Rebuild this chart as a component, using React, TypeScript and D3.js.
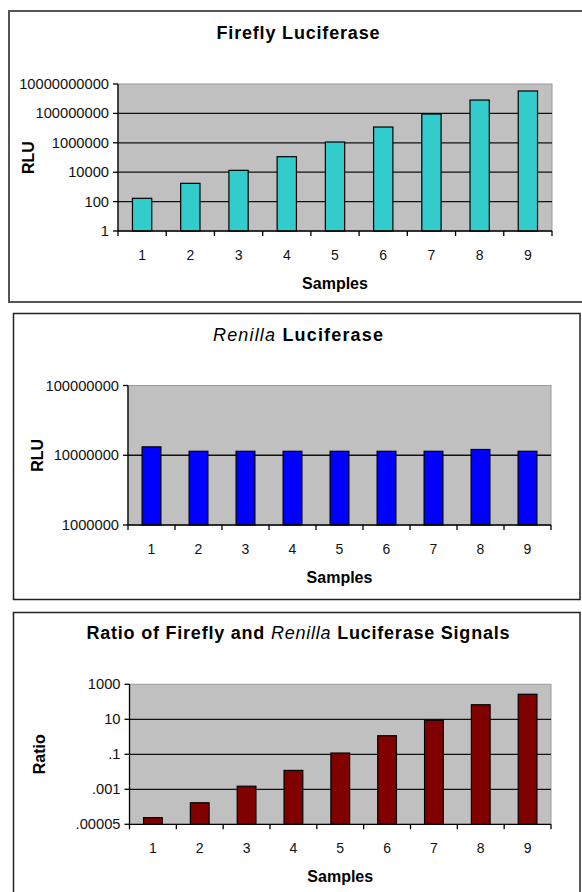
import React from 'react';
import * as d3 from 'd3';

// ---- data ----
const samples = ['1', '2', '3', '4', '5', '6', '7', '8', '9'];
const fireflyRLU = [167, 1750, 13400, 113000, 1.13e6, 1.18e7, 9.1e7, 8.1e8, 3.35e9];
const renillaRLU = [1.32e7, 1.14e7, 1.14e7, 1.14e7, 1.14e7, 1.14e7, 1.14e7, 1.21e7, 1.14e7];
const ratioValues = [2.4e-5, 1.7e-4, 1.5e-3, 0.012, 0.118, 1.15, 8.8, 68, 270];
const fireflyTicks = [1, 1e2, 1e4, 1e6, 1e8, 1e10];
const fireflyTickLabels = ['1', '100', '10000', '1000000', '100000000', '10000000000'];
const renillaTicks = [1e6, 1e7, 1e8];
const renillaTickLabels = ['1000000', '10000000', '100000000'];
const ratioTicks = [1e-5, 1e-3, 1e-1, 10, 1000];
const ratioTickLabels = ['.00005', '.001', '.1', '10', '1000'];

const FONT = '"Liberation Sans", Arial, Helvetica, sans-serif';

type Part = { t: string; italic?: boolean };

interface ChartProps {
  box: { x: number; y: number; w: number; h: number; stroke: string; sw: number };
  plot: { left: number; right: number; top: number; bottom: number };
  title: Part[];
  titleY: number;
  titleX: number;
  titleLen: number;
  yTitle: string;
  yTitleX: number;
  values: number[];
  ticks: number[];
  tickLabels: string[];
  color: string;
}

function Chart(p: ChartProps) {
  const { plot } = p;
  const x = d3.scaleBand<string>().domain(samples).range([plot.left, plot.right]).paddingInner(0).paddingOuter(0);
  const y = d3
    .scaleLog()
    .domain([p.ticks[0], p.ticks[p.ticks.length - 1]])
    .range([plot.bottom, plot.top]);
  const bw = x.bandwidth();
  const barW = bw * 0.4;
  const midY = (plot.top + plot.bottom) / 2;
  const midX = (plot.left + plot.right) / 2;
  const boundaries = samples.map((s) => x(s) as number).concat([plot.right]);
  return (
    <g>
      <rect x={p.box.x} y={p.box.y} width={p.box.w} height={p.box.h} fill="#fff" stroke={p.box.stroke} strokeWidth={p.box.sw} />
      <text
        x={p.titleX}
        y={p.titleY}
        textAnchor="middle"
        dominantBaseline="central"
        fontFamily={FONT}
        fontSize={18}
        fontWeight="bold"
        textLength={p.titleLen}
        lengthAdjust="spacing"
        fill="#000"
      >
        {p.title.map((part, i) => (
          <tspan key={i} fontStyle={part.italic ? 'italic' : 'normal'} fontWeight={part.italic ? 'normal' : 'bold'}>
            {part.t}
          </tspan>
        ))}
      </text>
      {/* plot area */}
      <rect x={plot.left} y={plot.top} width={plot.right - plot.left} height={plot.bottom - plot.top} fill="#C0C0C0" stroke="#9a9a9a" strokeWidth={1} />
      {/* gridlines */}
      {p.ticks.slice(1, -1).map((t, i) => (
        <line key={i} x1={plot.left} x2={plot.right} y1={y(t)} y2={y(t)} stroke="#111" strokeWidth={1.3} />
      ))}
      {/* bars */}
      {p.values.map((v, i) => {
        const bx = (x(samples[i]) as number) + (bw - barW) / 2;
        return (
          <rect key={i} x={bx} y={y(v)} width={barW} height={plot.bottom - y(v)} fill={p.color} stroke="#000" strokeWidth={1.2} />
        );
      })}
      {/* y axis */}
      <line x1={plot.left} x2={plot.left} y1={plot.top} y2={plot.bottom} stroke="#000" strokeWidth={1.3} />
      {p.ticks.map((t, i) => (
        <g key={i}>
          <line x1={plot.left - 5} x2={plot.left} y1={y(t)} y2={y(t)} stroke="#000" strokeWidth={1.3} />
          <text x={plot.left - 9} y={y(t)} textAnchor="end" dominantBaseline="central" fontFamily={FONT} fontSize={14.7} fill="#111">
            {p.tickLabels[i]}
          </text>
        </g>
      ))}
      {/* x axis */}
      <line x1={plot.left} x2={plot.right} y1={plot.bottom} y2={plot.bottom} stroke="#000" strokeWidth={1.3} />
      {boundaries.map((b, i) => (
        <line key={i} x1={b} x2={b} y1={plot.bottom} y2={plot.bottom + 5} stroke="#000" strokeWidth={1.3} />
      ))}
      {samples.map((s) => (
        <text key={s} x={(x(s) as number) + bw / 2} y={plot.bottom + 24} textAnchor="middle" dominantBaseline="central" fontFamily={FONT} fontSize={14} fill="#111">
          {s}
        </text>
      ))}
      <text x={midX} y={plot.bottom + 52} textAnchor="middle" dominantBaseline="central" fontFamily={FONT} fontSize={16} fontWeight="bold" fill="#000">
        Samples
      </text>
      <text
        x={p.yTitleX}
        y={midY}
        textAnchor="middle"
        dominantBaseline="central"
        fontFamily={FONT}
        fontSize={16}
        fontWeight="bold"
        fill="#000"
        transform={`rotate(-90 ${p.yTitleX} ${midY})`}
      >
        {p.yTitle}
      </text>
    </g>
  );
}

export default function App() {
  return (
    <svg width={582} height={892} style={{ position: 'absolute', left: 0, top: 0, background: '#fff' }}>
      <Chart
        box={{ x: 9, y: 11, w: 600, h: 291, stroke: '#555', sw: 2 }}
        plot={{ left: 118, right: 552, top: 84, bottom: 231 }}
        title={[{ t: 'Firefly Luciferase' }]}
        titleX={298}
        titleY={33}
        titleLen={163}
        yTitle="RLU"
        yTitleX={28}
        values={fireflyRLU}
        ticks={fireflyTicks}
        tickLabels={fireflyTickLabels}
        color="#33CCCC"
      />
      <Chart
        box={{ x: 13.5, y: 313.5, w: 566.5, h: 286, stroke: '#222', sw: 1.5 }}
        plot={{ left: 128, right: 551, top: 385.5, bottom: 525 }}
        title={[{ t: 'Renilla', italic: true }, { t: ' Luciferase' }]}
        titleX={298}
        titleY={335}
        titleLen={170}
        yTitle="RLU"
        yTitleX={37}
        values={renillaRLU}
        ticks={renillaTicks}
        tickLabels={renillaTickLabels}
        color="#0000FF"
      />
      <Chart
        box={{ x: 13.5, y: 612.5, w: 566.5, h: 300, stroke: '#222', sw: 1.5 }}
        plot={{ left: 129.5, right: 551, top: 684.3, bottom: 824.3 }}
        title={[{ t: 'Ratio of Firefly and ' }, { t: 'Renilla', italic: true }, { t: ' Luciferase Signals' }]}
        titleX={298}
        titleY={633}
        titleLen={423}
        yTitle="Ratio"
        yTitleX={40}
        values={ratioValues}
        ticks={ratioTicks}
        tickLabels={ratioTickLabels}
        color="#800000"
      />
    </svg>
  );
}
